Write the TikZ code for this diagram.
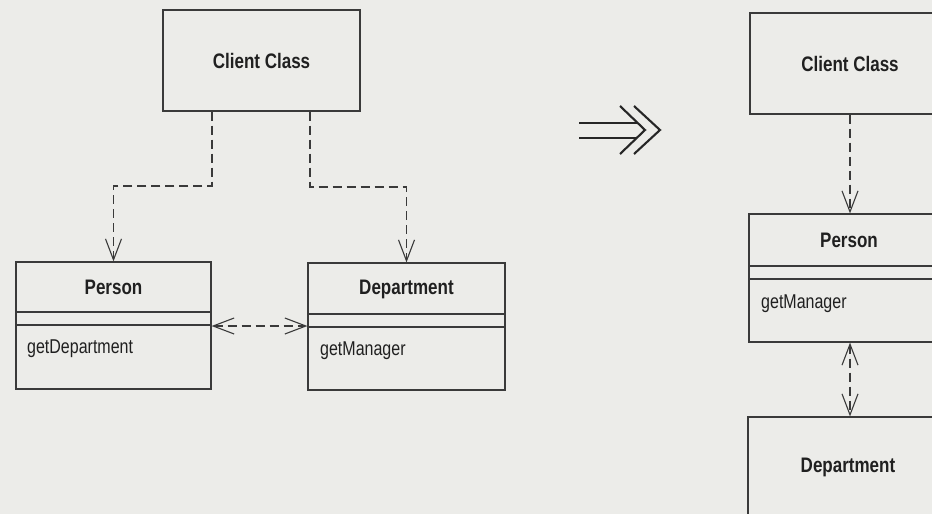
\documentclass[tikz,border=0pt]{standalone}
\usepackage{fontspec}
\setmainfont{Liberation Sans}
\newfontfamily\umlfont[FakeStretch=0.81]{Liberation Sans}
\newfontfamily\umlopfont[FakeStretch=0.80]{Liberation Sans}
\usetikzlibrary{arrows.meta}
\definecolor{paper}{RGB}{236,236,233}
\definecolor{ink}{RGB}{58,58,58}
\definecolor{textink}{RGB}{32,32,32}
\tikzset{
  classbox/.style={draw=ink, line width=1.2pt, rectangle, inner sep=0pt},
  cname/.style={font=\umlfont\bfseries\fontsize{21}{23}\selectfont, text=textink, inner sep=0pt},
  cmethod/.style={font=\umlopfont\fontsize{20}{22}\selectfont, text=textink, anchor=west, inner sep=0pt},
  sepline/.style={draw=ink, line width=1.1pt},
  barb/.tip={Straight Barb[length=21pt,width=16pt,line width=1.1pt]},
  dep/.style={draw=ink, line width=1.1pt, dash pattern=on 9pt off 5pt, -barb},
  mutual/.style={draw=ink, line width=1.1pt, dash pattern=on 9pt off 5pt, barb-barb},
  refactor/.style={draw=black!85, line width=2.1pt}
}
\begin{document}
\begin{tikzpicture}[x=1pt, y=-1pt]
  \useasboundingbox (0,0) rectangle (932,514);
  \fill[paper] (0,0) rectangle (932,514);
  \clip (0,0) rectangle (932,514);

  % ---------- before: client uses Person and Department ----------
  \node[classbox, minimum width=197pt, minimum height=101pt] (client) at (261.5,60.5) {};
  \node[cname] (clientname) at (client.center) {Client Class};

  \node[classbox, minimum width=195pt, minimum height=127pt] (person) at (113.5,325.5) {};
  \node[cname] (personname) at (113.5,287) {Person};
  \draw[sepline] (person.west |- 0,312) -- (person.east |- 0,312);
  \draw[sepline] (person.west |- 0,325) -- (person.east |- 0,325);
  \node[cmethod] (personop) at (27,349) {getDepartment};

  \node[classbox, minimum width=197pt, minimum height=127pt] (dept) at (406.5,326.5) {};
  \node[cname] (deptname) at (406.5,289) {Department};
  \draw[sepline] (dept.west |- 0,314) -- (dept.east |- 0,314);
  \draw[sepline] (dept.west |- 0,327) -- (dept.east |- 0,327);
  \node[cmethod] (deptop) at (320,351) {getManager};

  \draw[dep] (client.south -| 212,0) -- (212,186) -| (person.north);
  \draw[dep] (client.south -| 310,0) -- (310,187) -| (dept.north);
  \draw[mutual] (person.east |- 0,326) -- (dept.west |- 0,326);

  % ---------- refactoring symbol ----------
  \draw[refactor] (579,123) -- (637,123);
  \draw[refactor] (579,138) -- (637,138);
  \draw[refactor, line join=miter] (620,106) -- (645,130) -- (620,154);
  \draw[refactor, line join=miter] (634,106) -- (660,130) -- (634,154);

  % ---------- after: client goes through Person ----------
  \node[classbox, minimum width=200pt, minimum height=101pt] (client2) at (850,63.5) {};
  \node[cname] (client2name) at (client2.center) {Client Class};

  \node[classbox, minimum width=200pt, minimum height=128pt] (person2) at (849,278) {};
  \node[cname] (person2name) at (849,240) {Person};
  \draw[sepline] (person2.west |- 0,266) -- (person2.east |- 0,266);
  \draw[sepline] (person2.west |- 0,279) -- (person2.east |- 0,279);
  \node[cmethod] (person2op) at (761,304) {getManager};

  \node[classbox, minimum width=200pt, minimum height=100pt] (dept2) at (848,467) {};
  \node[cname] (dept2name) at (dept2.center) {Department};

  \draw[dep] (client2.south -| 850,0) -- (person2.north -| 850,0);
  \draw[mutual] (person2.south -| 850,0) -- (dept2.north -| 850,0);
\end{tikzpicture}
\end{document}
